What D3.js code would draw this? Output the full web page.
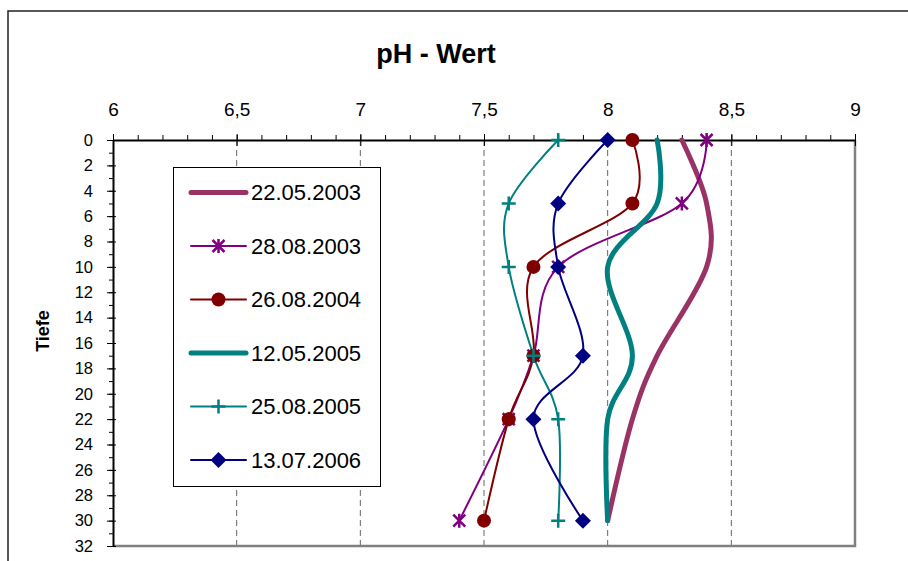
<!DOCTYPE html>
<html>
<head>
    <meta charset="utf-8">
    <title>pH - Wert</title>
    <style>
        body { margin: 0; background: #fff; font-family: "Liberation Sans", Arial, sans-serif; }
        .grid { stroke: #666; stroke-width: 1px; stroke-dasharray: 6,4; }
        .ax path, .ax line { stroke: #000; }
        .ax text { fill: #000; }
    </style>
    <script src="https://d3js.org/d3.v7.min.js"></script>
</head>
<body>
<svg id="chart"></svg>
<script>
    //depth of the measurements (m)
    var depths = [0, 5, 10, 17, 22, 30];
    //series names
    var names = ["22.05.2003", "28.08.2003", "26.08.2004", "12.05.2005", "25.08.2005", "13.07.2006"];
    //pH values per series, same order as depths
    var ph_220503 = [8.3, 8.4, 8.4, 8.2, 8.1, 8.0];
    var ph_280803 = [8.4, 8.3, 7.8, 7.7, 7.6, 7.4];
    var ph_260804 = [8.1, 8.1, 7.7, 7.7, 7.6, 7.5];
    var ph_120505 = [8.2, 8.2, 8.0, 8.1, 8.0, 8.0];
    var ph_250805 = [7.8, 7.6, 7.6, 7.7, 7.8, 7.8];
    var ph_130706 = [8.0, 7.8, 7.8, 7.9, 7.7, 7.9];
    //axis ticks
    var xTicks = [6, 6.5, 7, 7.5, 8, 8.5, 9];
    var xTickLabels = ["6", "6,5", "7", "7,5", "8", "8,5", "9"];
    var yTicks = d3.range(0, 33, 2);

    var values = [ph_220503, ph_280803, ph_260804, ph_120505, ph_250805, ph_130706];
    var colors = ["#993366", "#800080", "#800000", "#008080", "#008080", "#000080"];
    var widths = [5, 2, 2, 5, 2, 2];
    var markers = ["none", "star", "circle", "none", "plus", "diamond"];

    var W = 908, H = 561,
        pLeft = 113, pRight = 855, pTop = 140, pBottom = 546;

    var svg = d3.select("#chart").attr("width", W).attr("height", H);

    var x = d3.scaleLinear().domain([6, 9]).range([pLeft, pRight]),
        y = d3.scaleLinear().domain([0, 32]).range([pTop, pBottom]);

    //chart area frame (cut by the picture edge)
    svg.append("rect").attr("x", 8).attr("y", 11).attr("width", 1000).attr("height", 700)
        .attr("fill", "none").attr("stroke", "#222").attr("stroke-width", 1.5);

    //title
    svg.append("text").attr("x", 436).attr("y", 63).attr("text-anchor", "middle")
        .style("font-weight", "bold").style("font-size", "27px").text("pH - Wert");

    //axis title
    svg.append("text").attr("transform", "translate(49,331) rotate(-90)").attr("text-anchor", "middle")
        .style("font-weight", "bold").style("font-size", "18px").text("Tiefe");

    //dashed grid
    svg.append("g").selectAll("line").data(xTicks.slice(1, -1)).enter().append("line")
        .attr("class", "grid")
        .attr("x1", function(d) { return x(d); }).attr("x2", function(d) { return x(d); })
        .attr("y1", pTop).attr("y2", pBottom);

    //plot area border right/bottom
    svg.append("path").attr("d", "M" + pRight + "," + pTop + "V" + pBottom + "H" + pLeft)
        .attr("fill", "none").attr("stroke", "#808080").attr("stroke-width", 2.5);

    //top axis: minor ticks, then majors with labels
    svg.append("g").attr("class", "ax").attr("transform", "translate(0," + pTop + ")")
        .call(d3.axisTop(x).tickValues(d3.range(60, 91).map(function(d) { return d / 10; }))
            .tickSize(5).tickSizeOuter(0).tickFormat(""))
        .select(".domain").attr("stroke-width", 2);
    var gx = svg.append("g").attr("class", "ax").attr("transform", "translate(0," + pTop + ")")
        .call(d3.axisTop(x).tickValues(xTicks).tickSize(6).tickSizeOuter(0).tickPadding(18)
            .tickFormat(function(d, i) { return xTickLabels[i]; }));
    gx.select(".domain").remove();
    gx.selectAll(".tick line").attr("y2", 6).attr("y1", -6);
    gx.selectAll("text").style("font-size", "19px");

    //left axis
    svg.append("g").attr("class", "ax").attr("transform", "translate(" + pLeft + ",0)")
        .call(d3.axisLeft(y).tickValues(d3.range(0, 33)).tickSize(4).tickSizeOuter(0).tickFormat(""))
        .select(".domain").attr("stroke-width", 2);
    var gy = svg.append("g").attr("class", "ax").attr("transform", "translate(" + pLeft + ",0)")
        .call(d3.axisLeft(y).tickValues(yTicks).tickSize(6).tickSizeOuter(0).tickPadding(14));
    gy.select(".domain").remove();
    gy.selectAll(".tick line").attr("x1", 3);
    gy.selectAll("text").style("font-size", "16.5px");

    //marker drawing
    function marker(g, type, color, px, py) {
        if (type === "circle") {
            g.append("circle").attr("cx", px).attr("cy", py).attr("r", 7).attr("fill", color);
        } else if (type === "diamond") {
            g.append("path").attr("d", "M" + px + "," + (py - 8) + "L" + (px + 8) + "," + py + "L" + px + "," + (py + 8) + "L" + (px - 8) + "," + py + "Z")
                .attr("fill", color);
        } else if (type === "plus") {
            g.append("path").attr("d", "M" + (px - 7) + "," + py + "H" + (px + 7) + "M" + px + "," + (py - 7) + "V" + (py + 7))
                .attr("stroke", color).attr("stroke-width", 2.5);
        } else if (type === "star") {
            g.append("path").attr("d", "M" + (px - 6) + "," + (py - 6) + "L" + (px + 6) + "," + (py + 6) +
                "M" + (px - 6) + "," + (py + 6) + "L" + (px + 6) + "," + (py - 6) +
                "M" + px + "," + (py - 7) + "V" + (py + 7))
                .attr("stroke", color).attr("stroke-width", 2.5);
        }
    }

    var line = d3.line().curve(d3.curveCardinal.tension(0))
        .x(function(d) { return x(d[0]); }).y(function(d) { return y(d[1]); });

    var plot = svg.append("g");
    values.forEach(function(vals, i) {
        var pts = vals.map(function(v, j) { return [v, depths[j]]; });
        plot.append("path").attr("d", line(pts)).attr("fill", "none")
            .attr("stroke", colors[i]).attr("stroke-width", widths[i]).attr("stroke-linecap", "round");
    });
    values.forEach(function(vals, i) {
        vals.forEach(function(v, j) { marker(plot, markers[i], colors[i], x(v), y(depths[j])); });
    });

    //legend
    var lg = svg.append("g");
    lg.append("rect").attr("x", 173.5).attr("y", 167.5).attr("width", 207).attr("height", 319)
        .attr("fill", "#fff").attr("stroke", "#000").attr("stroke-width", 1);
    names.forEach(function(n, i) {
        var ly = 192.5 + i * 53.5;
        lg.append("line").attr("x1", 191).attr("x2", 246).attr("y1", ly).attr("y2", ly)
            .attr("stroke", colors[i]).attr("stroke-width", widths[i]).attr("stroke-linecap", "round");
        marker(lg, markers[i], colors[i], 218.5, ly);
        lg.append("text").attr("x", 251).attr("y", ly).attr("dy", "0.36em")
            .style("font-size", "22px").text(n);
    });
</script>
</body>
</html>
